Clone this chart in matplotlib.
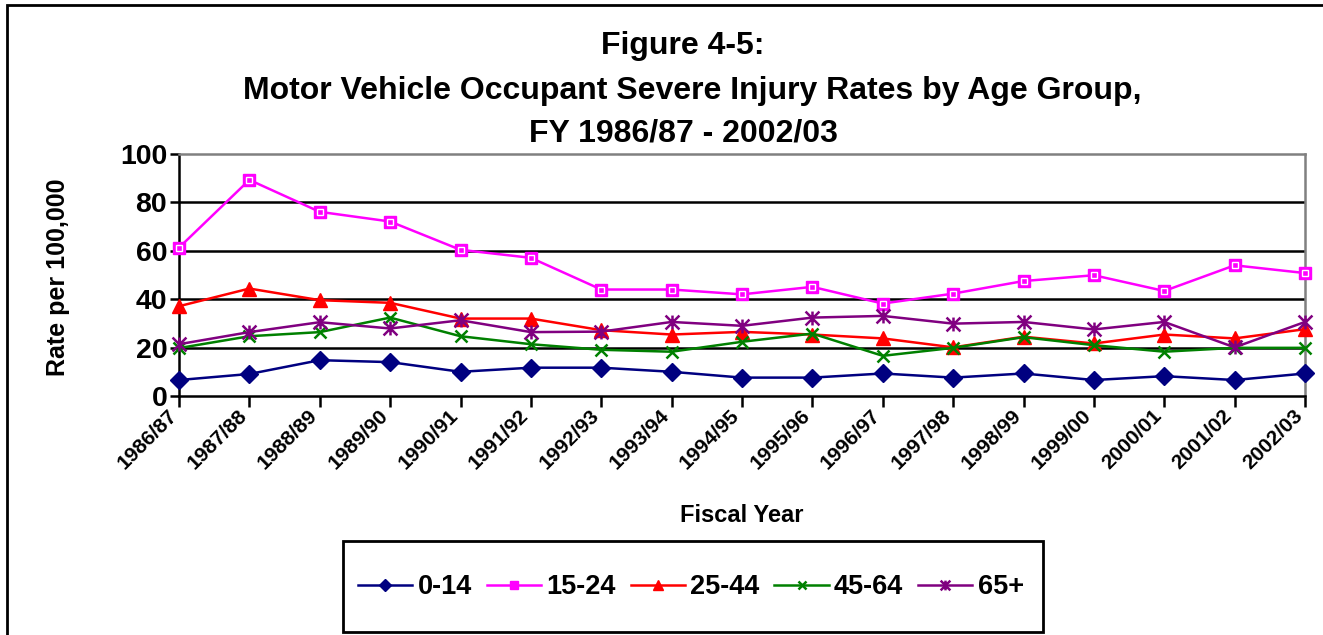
import matplotlib
matplotlib.use("Agg")
import matplotlib.pyplot as plt
from matplotlib.path import Path
from matplotlib.patches import Rectangle

plt.rcParams['font.family'] = ['Liberation Sans', 'DejaVu Sans']
plt.rcParams['font.weight'] = 'bold'

# ---- data ----
years = ['1986/87', '1987/88', '1988/89', '1989/90', '1990/91', '1991/92',
         '1992/93', '1993/94', '1994/95', '1995/96', '1996/97', '1997/98',
         '1998/99', '1999/00', '2000/01', '2001/02', '2002/03']
age_0_14 = [6.6, 9.1, 14.8, 14.0, 10.0, 11.7, 11.7, 10.0, 7.6, 7.6, 9.3,
            7.6, 9.3, 6.6, 8.2, 6.6, 9.3]
age_15_24 = [61.3, 89.3, 76.1, 72.1, 60.4, 57.1, 44.0, 44.0, 42.0, 45.1, 38.2,
             42.3, 47.5, 49.9, 43.4, 54.0, 50.8]
age_25_44 = [37.1, 44.4, 39.6, 38.5, 32.0, 32.0, 27.2, 25.4, 26.5, 25.4, 23.8,
             20.1, 24.5, 21.7, 25.4, 23.8, 27.6]
age_45_64 = [19.8, 24.7, 26.4, 32.4, 24.7, 21.4, 19.1, 18.3, 22.4, 25.8, 16.6,
             19.9, 24.3, 21.0, 18.3, 19.9, 19.9]
age_65_up = [21.4, 26.4, 30.5, 27.9, 31.3, 26.4, 26.6, 30.6, 29.0, 32.4, 33.1,
             29.9, 30.6, 27.5, 30.6, 20.1, 30.6]

W, H = 1323, 635
fig = plt.figure(figsize=(W / 100, H / 100), dpi=100)
ax = fig.add_axes([179 / W, 1 - 396 / H, (1305 - 179) / W, (396 - 154) / H])

# Excel style asterisk: an x with a vertical bar
star = Path([(0, -1), (0, 1), (-1, -1), (1, 1), (-1, 1), (1, -1)],
            [Path.MOVETO, Path.LINETO, Path.MOVETO, Path.LINETO, Path.MOVETO, Path.LINETO])

x = list(range(len(years)))
ax.plot(x, age_0_14, color='#000080', lw=1.8, marker='D', ms=9, label='0-14', clip_on=False, zorder=5)
ax.plot(x, age_15_24, color='#FF00FF', lw=1.8, marker='s', ms=8.5, label='15-24', clip_on=False, zorder=5)
ax.plot(x, age_15_24, ls='none', marker='s', ms=4.5, mfc='none', mec='white', mew=1.0, clip_on=False, zorder=6)
ax.plot(x, age_25_44, color='#FF0000', lw=1.8, marker='^', ms=10, label='25-44', clip_on=False, zorder=5)
ax.plot(x, age_45_64, color='#008000', lw=1.8, marker='x', ms=9, mew=1.8, label='45-64', clip_on=False, zorder=5)
ax.plot(x, age_65_up, color='#800080', lw=1.8, marker=star, ms=10, mew=1.8, label='65+', clip_on=False, zorder=5)

ax.set_xlim(0, len(years) - 1)
ax.set_ylim(0, 100)
ax.set_yticks([0, 20, 40, 60, 80, 100])
ax.set_xticks(x)
ax.set_xticklabels([])
# slanted category labels, top-right corner just under each tick
for i, yr in enumerate(years):
    ax.annotate(yr, xy=(i, 0), xycoords=('data', 'axes fraction'), xytext=(1, -7),
                textcoords='offset points', rotation=45,
                ha='right', va='top', fontsize=15, fontweight='bold', annotation_clip=False)
ax.tick_params(axis='x', length=8, width=1.8)
ax.tick_params(axis='y', length=6.5, width=1.8, pad=2, labelsize=20.5)
for t in [20, 40, 60, 80]:
    ax.axhline(t, color='black', lw=1.8, zorder=1)
for s in ['left', 'bottom']:
    ax.spines[s].set_linewidth(1.8)
    ax.spines[s].set_color('black')
for s in ['top', 'right']:
    ax.spines[s].set_linewidth(1.8)
    ax.spines[s].set_color('#808080')

# titles and axis labels
fig.text(683 / W, 1 - 46 / H, 'Figure 4-5:', ha='center', va='center', fontsize=23, fontweight='bold')
fig.text(692 / W, 1 - 91 / H, 'Motor Vehicle Occupant Severe Injury Rates by Age Group,',
         ha='center', va='center', fontsize=23, fontweight='bold')
fig.text(683 / W, 1 - 133 / H, 'FY 1986/87 - 2002/03', ha='center', va='center', fontsize=23, fontweight='bold')
fig.text(58 / W, 1 - 277 / H, 'Rate per 100,000', rotation=90, ha='center', va='center',
         fontsize=18, fontweight='bold')
fig.text(742 / W, 1 - 515 / H, 'Fiscal Year', ha='center', va='center', fontsize=17, fontweight='bold')

# outer chart border and legend box
fig.patches.append(Rectangle((7 / W, -0.05), 1.2, 1.05 - 5 / H, transform=fig.transFigure,
                             fill=False, ec='black', lw=2))
fig.patches.append(Rectangle((343 / W, 3 / H), 700 / W, (635 - 541 - 3) / H, transform=fig.transFigure,
                             fill=False, ec='black', lw=2))
handles, labels = ax.get_legend_handles_labels()
fig.legend(handles, labels, loc='center', bbox_to_anchor=(691 / W, 1 - 587 / H), ncol=5,
           frameon=False, fontsize=19.5, markerscale=0.7, handlelength=2.0,
           handletextpad=0.2, columnspacing=0.55)

fig.savefig('out.png', dpi=100)
